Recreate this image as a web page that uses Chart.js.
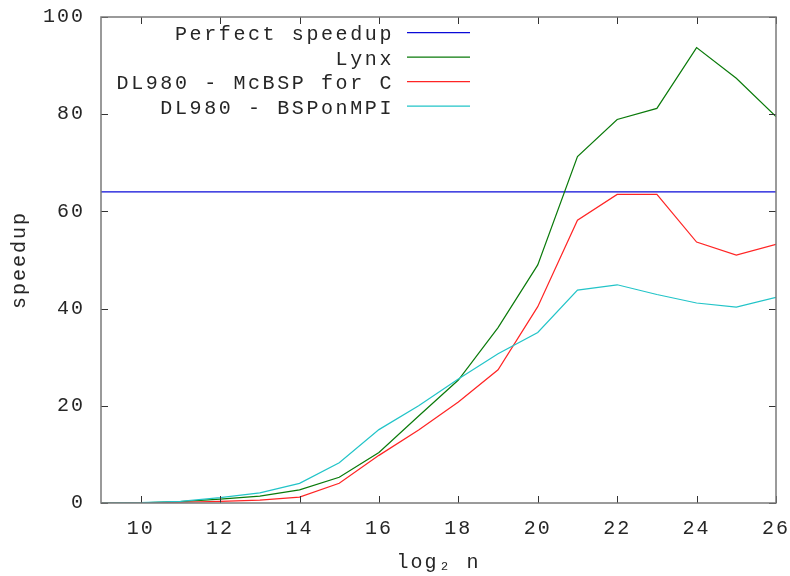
<!DOCTYPE html>
<html><head><meta charset="utf-8">
<script src="https://cdn.jsdelivr.net/npm/chart.js@4"></script>
<style>html,body{margin:0;padding:0;background:#fff}</style>
</head><body>
<canvas id="c" width="790" height="576"></canvas>
<script>
const log2n    = [9, 10, 11, 12, 13, 14, 15, 16, 17, 18, 19, 20, 21, 22, 23, 24, 25, 26];
const perfect  = [64, 64, 64, 64, 64, 64, 64, 64, 64, 64, 64, 64, 64, 64, 64, 64, 64, 64];
const lynx     = [0, 0.05, 0.3, 0.8, 1.4, 2.7, 5.3, 10.4, 17.9, 25.3, 36.1, 49.0, 71.3, 78.9, 81.2, 93.7, 87.4, 79.5];
const mcbsp    = [0, 0.05, 0.15, 0.35, 0.6, 1.2, 4.05, 9.8, 15.0, 20.8, 27.4, 40.4, 58.2, 63.5, 63.5, 53.7, 51.0, 53.2];
const bsponmpi = [0, 0.07, 0.35, 1.1, 2.1, 4.05, 8.3, 15.1, 20.0, 25.5, 30.7, 35.1, 43.8, 44.9, 42.9, 41.15, 40.3, 42.3];
const xTicks = [10, 12, 14, 16, 18, 20, 22, 24, 26];
const yTicks = [0, 20, 40, 60, 80, 100];
const seriesLabels = ['Perfect speedup', 'Lynx', 'DL980 - McBSP for C', 'DL980 - BSPonMPI'];
const seriesColors = ['#0a0ad8', '#0a7a0a', '#ff2424', '#22c4c8'];
const seriesValues = [perfect, lynx, mcbsp, bsponmpi];

const FONT = {family: '"Liberation Mono", "DejaVu Sans Mono", monospace', size: 20};
const TXT = '#262626';

const framePlugin = {
  id: 'frame',
  beforeDraw(chart) { chart.ctx.letterSpacing = '2px'; },
  afterDraw(chart) {
    const {ctx, chartArea: {left, right, top, bottom}, scales: {x, y}} = chart;
    ctx.save();
    ctx.strokeStyle = '#333';
    ctx.lineWidth = 1;
    ctx.beginPath();
    xTicks.forEach(v => {
      const px = Math.round(x.getPixelForValue(v)) + 0.5;
      ctx.moveTo(px, bottom); ctx.lineTo(px, bottom - 7);
      ctx.moveTo(px, top); ctx.lineTo(px, top + 7);
    });
    yTicks.forEach(v => {
      const py = Math.round(y.getPixelForValue(v)) + 0.5;
      ctx.moveTo(left, py); ctx.lineTo(left + 7, py);
      ctx.moveTo(right, py); ctx.lineTo(right - 7, py);
    });
    ctx.stroke();
    ctx.strokeStyle = '#7a7a7a';
    ctx.lineWidth = 1.5;
    ctx.strokeRect(left, top, right - left, bottom - top);
    // key
    ctx.letterSpacing = '2.6px';
    ctx.font = '20px ' + FONT.family;
    ctx.fillStyle = TXT;
    ctx.textAlign = 'right';
    ctx.textBaseline = 'alphabetic';
    chart.data.datasets.forEach((ds, i) => {
      const ly = 32.7 + i * 24.5;
      ctx.fillText(ds.label, 394, ly + 7.5);
      ctx.strokeStyle = ds.borderColor;
      ctx.lineWidth = 1.3;
      ctx.beginPath();
      ctx.moveTo(407, ly); ctx.lineTo(470, ly);
      ctx.stroke();
    });
    ctx.restore();
  }
};

new Chart(document.getElementById('c'), {
  type: 'line',
  data: {
    datasets: seriesValues.map((vals, i) => ({
      label: seriesLabels[i],
      data: log2n.map((xv, j) => ({x: xv, y: vals[j]})),
      borderColor: seriesColors[i],
      backgroundColor: seriesColors[i],
      borderWidth: 1.2,
      pointRadius: 0,
      tension: 0,
      fill: false,
      order: 3 - i
    }))
  },
  options: {
    responsive: false,
    animation: false,
    events: [],
    layout: {padding: {top: 17, right: 14, left: 0, bottom: 0}},
    plugins: {legend: {display: false}, tooltip: {enabled: false}},
    scales: {
      x: {
        type: 'linear', min: 9, max: 26,
        afterBuildTicks: s => { s.ticks = xTicks.map(v => ({value: v})); },
        afterFit: s => { s.height = 73; s.paddingLeft = 0; s.paddingRight = 0; },
        grid: {display: false, drawTicks: false},
        border: {display: false},
        ticks: {font: FONT, color: TXT, padding: 14, maxRotation: 0, autoSkip: false},
        title: {display: true, text: 'log₂ n', font: FONT, color: TXT, padding: {top: 0, bottom: 1}}
      },
      y: {
        type: 'linear', min: 0, max: 100,
        afterBuildTicks: s => { s.ticks = yTicks.map(v => ({value: v})); },
        afterFit: s => { s.width = 101; s.paddingTop = 0; s.paddingBottom = 0; },
        grid: {display: false, drawTicks: false},
        border: {display: false},
        ticks: {font: FONT, color: TXT, padding: 16, autoSkip: false},
        title: {display: true, text: 'speedup', font: FONT, color: TXT, padding: {top: 8, bottom: 0}}
      }
    }
  },
  plugins: [framePlugin]
});
</script>
</body></html>
